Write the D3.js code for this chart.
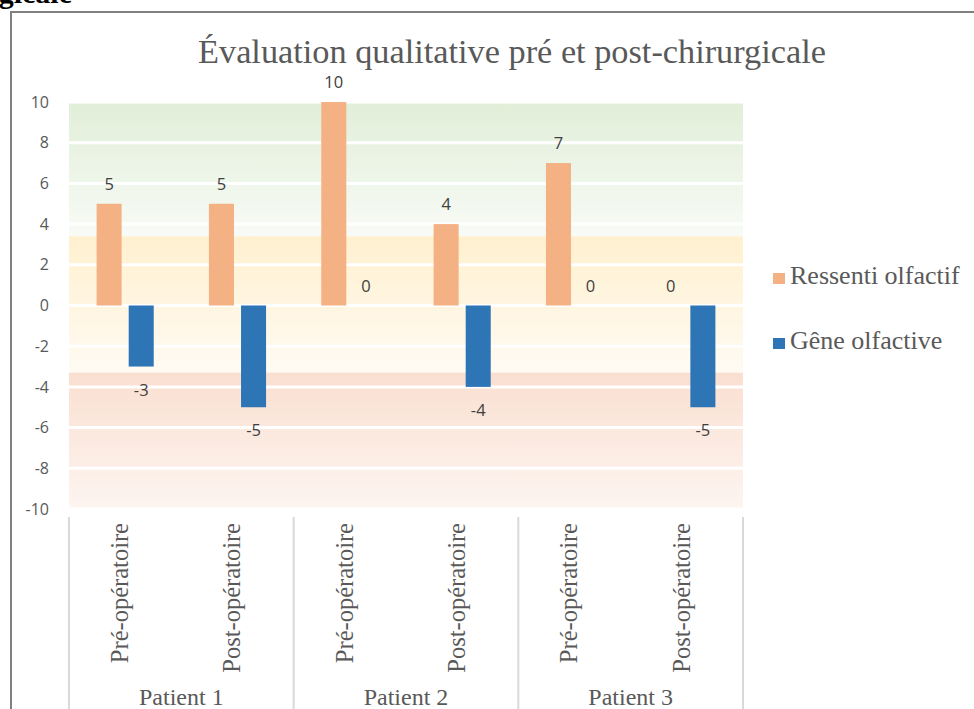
<!DOCTYPE html>
<html>
<head>
<meta charset="utf-8">
<script src="https://cdn.jsdelivr.net/npm/d3@7"></script>
<style>
  body { margin: 0; background: #fff; }
  svg { display: block; }
</style>
</head>
<body>
<svg width="974" height="709"></svg>
<script>
// data
const patients = ["Patient 1", "Patient 2", "Patient 3"];
const phases = ["Pré-opératoire", "Post-opératoire"];
const seriesNames = ["Ressenti olfactif", "Gêne olfactive"];
const ressenti = [5, 5, 10, 4, 7, 0];
const gene = [-3, -5, 0, -4, 0, -5];
const yTicks = [10, 8, 6, 4, 2, 0, -2, -4, -6, -8, -10];
const zoneLimits = [10, 3.4, -3.3, -10];

const categories = [];
patients.forEach(p => phases.forEach(ph => categories.push(p + "|" + ph)));
const rows = categories.map((c, i) => ({cat: c, values: [ressenti[i], gene[i]]}));

const serif = "'Liberation Serif', 'Times New Roman', serif";
const sans = "'Open Sans', 'DejaVu Sans', sans-serif";
const barColors = ["#f4b183", "#2e75b6"];
const zoneColors = [["#e1eed8", "#f8fbf6"], ["#fff0cf", "#fffbf3"], ["#fadfd0", "#fdf5f1"]];

const plotLeft = 69, plotRight = 743, plotTop = 102, plotBottom = 509;

const svg = d3.select("svg");

// cropped caption above the frame
svg.append("text")
  .attr("x", 72).attr("y", 3)
  .attr("text-anchor", "end")
  .attr("font-family", serif)
  .attr("font-weight", "bold")
  .attr("font-size", "30px")
  .attr("fill", "#000")
  .text("chirurgicale");

// frame
svg.append("rect")
  .attr("x", 11).attr("y", 12)
  .attr("width", 1000).attr("height", 800)
  .attr("fill", "none")
  .attr("stroke", "#808080")
  .attr("stroke-width", 2);

const y = d3.scaleLinear().domain([-10, 10]).range([plotBottom, plotTop]);
const x0 = d3.scaleBand().domain(categories).range([plotLeft, plotRight]).padding(0);
const x1 = d3.scaleBand().domain(seriesNames).range([0, x0.bandwidth()])
  .paddingInner(0.22).paddingOuter(0.86);

// background zones
const defs = svg.append("defs");
zoneColors.forEach((c, i) => {
  const g = defs.append("linearGradient").attr("id", "zone" + i)
    .attr("x1", 0).attr("x2", 0).attr("y1", 0).attr("y2", 1);
  g.append("stop").attr("offset", "0%").attr("stop-color", c[0]);
  g.append("stop").attr("offset", "100%").attr("stop-color", c[1]);
});
svg.append("g").selectAll("rect")
  .data(d3.pairs(zoneLimits))
  .join("rect")
  .attr("x", plotLeft)
  .attr("width", plotRight - plotLeft)
  .attr("y", d => y(d[0]))
  .attr("height", d => y(d[1]) - y(d[0]))
  .attr("fill", (d, i) => `url(#zone${i})`);

// gridlines
svg.append("g").selectAll("line")
  .data(yTicks)
  .join("line")
  .attr("x1", plotLeft).attr("x2", plotRight)
  .attr("y1", d => y(d)).attr("y2", d => y(d))
  .attr("stroke", "#fff")
  .attr("stroke-width", 3);

// y axis
const yAxis = svg.append("g")
  .attr("transform", "translate(49,0)")
  .call(d3.axisLeft(y).tickValues(yTicks).tickFormat(d => String(d)).tickSize(0).tickPadding(0));
yAxis.select(".domain").remove();
yAxis.selectAll("text")
  .attr("font-family", sans)
  .attr("font-size", "16px")
  .attr("fill", "#595959");

// bars
const groups = svg.append("g").selectAll("g")
  .data(rows)
  .join("g")
  .attr("transform", d => `translate(${x0(d.cat)},0)`);

groups.selectAll("rect")
  .data(d => d.values.map((v, i) => ({series: seriesNames[i], i, v})))
  .join("rect")
  .attr("x", d => x1(d.series))
  .attr("width", x1.bandwidth())
  .attr("y", d => y(Math.max(0, d.v)))
  .attr("height", d => Math.abs(y(d.v) - y(0)))
  .attr("fill", d => barColors[d.i]);

groups.selectAll("text")
  .data(d => d.values.map((v, i) => ({series: seriesNames[i], i, v})))
  .join("text")
  .attr("x", d => x1(d.series) + x1.bandwidth() / 2)
  .attr("y", d => d.v >= 0 ? y(d.v) - 14 : y(d.v) + 29)
  .attr("text-anchor", "middle")
  .attr("font-family", sans)
  .attr("font-size", "16.5px")
  .attr("fill", "#404040")
  .text(d => d.v);

// x axis: phase labels
svg.append("g").selectAll("text")
  .data(categories)
  .join("text")
  .attr("transform", d => `translate(${x0(d) + x0.bandwidth() / 2},523) rotate(-90)`)
  .attr("dy", "0.12em")
  .attr("text-anchor", "end")
  .attr("font-family", serif)
  .attr("font-size", "24.5px")
  .attr("fill", "#595959")
  .text(d => d.split("|")[1]);

// x axis: patient labels
const pScale = d3.scaleBand().domain(patients).range([plotLeft, plotRight]);
svg.append("g").selectAll("text")
  .data(patients)
  .join("text")
  .attr("x", d => pScale(d) + pScale.bandwidth() / 2)
  .attr("y", 705)
  .attr("text-anchor", "middle")
  .attr("font-family", serif)
  .attr("font-size", "24px")
  .attr("fill", "#595959")
  .text(d => d);

// group separators
svg.append("g").selectAll("line")
  .data(patients.map(p => pScale(p)).concat([plotRight]))
  .join("line")
  .attr("x1", d => d).attr("x2", d => d)
  .attr("y1", 517).attr("y2", 709)
  .attr("stroke", "#d9d9d9")
  .attr("stroke-width", 2);

// title
svg.append("text")
  .attr("x", 512).attr("y", 63)
  .attr("text-anchor", "middle")
  .attr("font-family", serif)
  .attr("font-size", "34.3px")
  .attr("fill", "#595959")
  .text("Évaluation qualitative pré et post-chirurgicale");

// legend
const legend = svg.append("g").attr("transform", "translate(773,0)");
const legendY = [284, 349];
legend.selectAll("rect")
  .data(seriesNames)
  .join("rect")
  .attr("x", 0)
  .attr("y", (d, i) => legendY[i] - 11)
  .attr("width", 12).attr("height", 11)
  .attr("fill", (d, i) => barColors[i]);
legend.selectAll("text")
  .data(seriesNames)
  .join("text")
  .attr("x", 17)
  .attr("y", (d, i) => legendY[i])
  .attr("font-family", serif)
  .attr("font-size", "26px")
  .attr("fill", "#595959")
  .text(d => d);
</script>
</body>
</html>
